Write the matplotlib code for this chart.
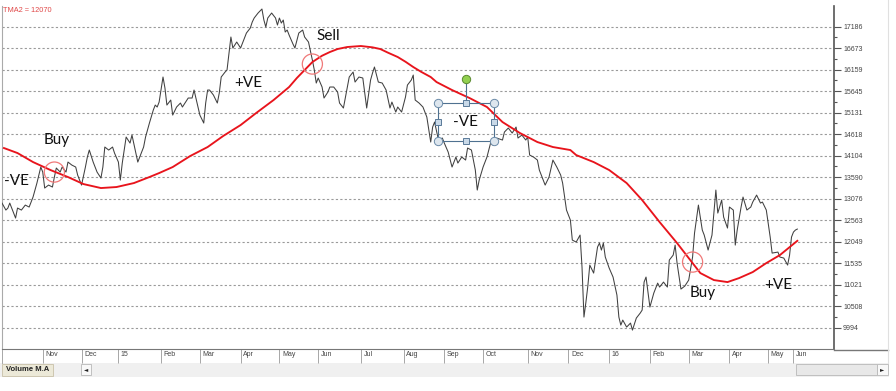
import matplotlib.pyplot as plt
from matplotlib.patches import Rectangle

# === DATA ===
# x = trading session index from the left edge of the chart
close_idx = [0, 2, 3, 4, 7, 8, 10, 12, 14, 16, 18, 20, 21, 22, 24, 26, 27, 28, 30, 31,
             33, 34, 36, 38, 39, 41, 43, 44, 45, 47, 49, 51, 52, 53, 55, 57, 58, 60, 61, 62,
             64, 66, 67, 69, 70, 71, 73, 74, 76, 78, 79, 80, 81, 83, 84, 85, 87, 88, 90, 92,
             93, 96, 98, 99, 101, 102, 104, 105, 106, 107, 109, 111, 112, 113, 115, 116, 118, 119, 121, 123,
             124, 126, 128, 129, 130, 132, 134, 135, 136, 137, 139, 141, 142, 143, 144, 145, 146, 147, 148, 150,
             151, 153, 155, 156, 158, 160, 161, 162, 163, 165, 166, 168, 169, 171, 173, 174, 176, 178, 179, 181,
             182, 184, 186, 188, 190, 191, 192, 194, 196, 198, 200, 201, 203, 204, 206, 208, 209, 211, 212, 213,
             215, 217, 219, 221, 222, 223, 225, 227, 228, 230, 232, 234, 235, 237, 239, 240, 242, 244, 245, 246,
             248, 250, 252, 253, 255, 258, 259, 261, 263, 265, 266, 268, 270, 271, 272, 274, 276, 277, 279, 280,
             282, 284, 286, 288, 289, 291, 293, 294, 296, 298, 299, 300, 301, 302, 303, 305, 307, 308, 309, 310,
             311, 313, 315, 317, 318, 319, 320, 322, 324, 325, 327, 329, 330, 331, 332, 334, 336, 338, 339, 341,
             343, 344, 346, 347, 348, 350, 352, 354, 356, 357, 359, 361, 362, 364, 366, 367, 368, 369, 371, 372,
             374, 375, 377, 378, 379, 381, 382, 384, 386, 387, 389, 391, 392, 394, 396, 397, 400, 401, 403, 405,
             406, 407, 408, 409, 410]
close_val = [12972, 12805, 12850, 12972, 12614, 12853, 12805, 12924, 12877, 13116, 13450, 13833, 13713, 13331, 13402, 13355, 13594, 13809, 13713, 13833,
             13713, 13952, 13880, 13833, 13641, 13402, 13833, 14072, 14239, 13952, 13713, 13570, 13833, 14311, 14239, 14311, 14167, 13952, 13522, 13928,
             14550, 14406, 14597, 14167, 13952, 14072, 14311, 14550, 14884, 15195, 15314, 15267, 15386, 15984, 15721, 15314, 15434, 15075, 15267, 15362,
             15267, 15482, 15482, 15673, 15267, 15075, 14884, 15362, 15673, 15673, 15553, 15362, 15601, 15984, 16103, 16151, 16940, 16677, 16820, 16677,
             16796, 17035, 17155, 17298, 17394, 17513, 17609, 17346, 17179, 17394, 17513, 17394, 17226, 17394, 17274, 17346, 17059, 17107, 16987, 16772,
             16677, 17035, 17107, 16940, 16820, 16390, 16151, 15840, 15960, 15745, 15482, 15625, 15745, 15745, 15625, 15362, 15243, 15745, 15984, 16103,
             15864, 15984, 15960, 15243, 15912, 16079, 16223, 15864, 15840, 15673, 15243, 15386, 15147, 15267, 15147, 15506, 15792, 15912, 16031, 15434,
             15362, 15267, 15028, 14430, 14789, 14908, 14478, 14526, 14406, 14191, 13833, 14072, 13928, 14072, 14000, 14287, 14239, 13761, 13283, 13522,
             13833, 14072, 14430, 14358, 14526, 14478, 14669, 14765, 14645, 14789, 14526, 14597, 14478, 14550, 14119, 14072, 14000, 13761, 13522, 13402,
             13594, 14000, 13833, 13641, 13450, 12805, 12566, 12088, 12040, 12207, 11443, 10248, 10600, 10990, 11490, 11299, 11921, 12016, 11849, 12016,
             11682, 11419, 11204, 10773, 10248, 10056, 10176, 10009, 10104, 9937, 10224, 10343, 10415, 11084, 11204, 10487, 10821, 11060, 10965, 11084,
             10965, 11610, 11729, 11968, 11538, 10917, 10989, 11132, 11682, 12255, 12924, 12327, 12207, 11849, 12207, 12733, 13283, 12733, 13044, 12638,
             12375, 12877, 12805, 11968, 12327, 12877, 13116, 12805, 12877, 12996, 13163, 12972, 12996, 12805, 12160, 11777, 11801, 11682, 11658, 11490,
             11729, 12160, 12279, 12327, 12351]

tma_idx = [1, 8, 16, 25, 34, 42, 51, 59, 68, 76, 81, 88, 97, 106, 114, 123, 131, 140, 148, 152,
           156, 160, 165, 169, 173, 178, 185, 191, 195, 199, 204, 208, 212, 216, 221, 224, 232, 241, 250, 258,
           267, 276, 284, 293, 296, 305, 313, 322, 330, 339, 348, 356, 360, 367, 374, 380, 387, 394, 401, 410]
tma_val = [14287, 14167, 13952, 13761, 13594, 13426, 13331, 13355, 13450, 13594, 13689, 13833, 14096, 14311, 14574, 14836, 15123, 15434, 15745, 15960,
           16151, 16342, 16493, 16581, 16653, 16701, 16725, 16693, 16653, 16565, 16462, 16349, 16223, 16110, 15984, 15864, 15673, 15482, 15267, 14908,
           14645, 14430, 14311, 14239, 14119, 13952, 13761, 13450, 13044, 12518, 12016, 11538, 11299, 11132, 11084, 11180, 11323, 11538, 11729, 12070]

month_pos = [21, 41, 60, 82, 102, 123, 143, 163, 185, 207, 228, 248, 271, 292, 313, 334, 354, 375, 395, 408]
month_lbl = ["Nov", "Dec", "15", "Feb", "Mar", "Apr", "May", "Jun", "Jul", "Aug",
             "Sep", "Oct", "Nov", "Dec", "16", "Feb", "Mar", "Apr", "May", "Jun"]
y_ticks = [17186, 16673, 16159, 15645, 15131, 14618, 14104, 13590, 13076, 12563,
           12049, 11535, 11021, 10508, 9994]

# signal circles and notes
circle_idx = [27, 160, 356]
circle_val = [13713, 16294, 11562]
note_txt = ["Buy", "-VE", "+VE", "Sell", "-VE", "Buy", "+VE"]
note_idx = [28, 1, 127, 168, 239, 361, 400]
note_val = [14478, 13498, 15840, 16964, 14915, 10821, 11013]
note_ha = ["center", "left", "center", "center", "center", "center", "center"]

# selected text box (from the drawing tool)
box_x = [225, 253.6]
box_y = [14454, 15362]
handle_top = 15936

# === FIGURE ===
fig = plt.figure(figsize=(8.96, 3.91), dpi=100)
fig.patch.set_facecolor("white")

# window chrome (pixel coordinates)
ui = fig.add_axes([0, 0, 1, 1], zorder=0)
ui.set_xlim(0, 896)
ui.set_ylim(391, 0)
ui.axis("off")
ui.add_patch(Rectangle((0, 363), 889, 14, fc="#f0f0f0", ec="none"))
ui.add_patch(Rectangle((2, 363.5), 51, 12, fc="#ece9d8", ec="#c8c0a8", lw=0.6))
ui.text(27.5, 369.5, "Volume M.A", fontsize=5.5, weight="bold", ha="center", va="center",
        family="Liberation Sans", color="#222")
ui.add_patch(Rectangle((81, 364), 10, 11, fc="#f8f8f8", ec="#b8b8b8", lw=0.6))
ui.text(86, 369.5, "◄", fontsize=4, ha="center", va="center", color="#222")
ui.add_patch(Rectangle((796, 364), 81, 11, fc="#e8e8e8", ec="#b8b8b8", lw=0.6))
ui.add_patch(Rectangle((877, 364), 11, 11, fc="#f8f8f8", ec="#b8b8b8", lw=0.6))
ui.text(882.5, 369.5, "►", fontsize=4, ha="center", va="center", color="#222")
ui.plot([834, 888], [349.5, 349.5], color="#777", lw=1)
ui.plot([888, 888], [0, 363], color="#e0e0e0", lw=0.8)
ui.plot([2, 2], [349.5, 363], color="#999", lw=0.6)

# main price panel
ax = fig.add_axes([2 / 896, (391 - 349) / 391, 832 / 896, (349 - 6) / 391], zorder=1)
ax.set_facecolor("white")
ax.plot(close_idx, close_val, color="#404040", lw=0.75, zorder=3)
ax.plot(tma_idx, tma_val, color="#e8141c", lw=1.35, zorder=4)
ax.set_xlim(0, 428.9)
ax.set_ylim(9485, 17681)

ax.yaxis.tick_right()
ax.set_yticks(y_ticks)
ax.set_yticklabels([str(v) for v in y_ticks])
ax.set_yticks([(a + b) / 2 for a, b in zip(y_ticks[:-1], y_ticks[1:])], minor=True)
ax.tick_params(axis="y", which="major", length=5, width=0.8, color="#555",
               labelsize=5, labelcolor="#444", pad=1.5)
ax.tick_params(axis="y", which="minor", length=2.5, width=0.8, color="#555")
for lab in ax.get_yticklabels():
    lab.set_family("Liberation Sans")
ax.yaxis.grid(True, which="major", linestyle=(0, (2, 2)), color="#9a9a9a", lw=0.8)
ax.set_axisbelow(True)

ax.set_xticks(month_pos)
ax.set_xticklabels([])
ax.tick_params(axis="x", length=10, width=0.6, color="#999", direction="out")
for p, lab in zip(month_pos, month_lbl):
    ax.annotate(lab, xy=(p, 0), xycoords=ax.get_xaxis_transform(), xytext=(1.8, -1.8),
                textcoords="offset points", ha="left", va="top", fontsize=5,
                family="Liberation Sans", color="#444")

ax.spines["top"].set_visible(False)
ax.spines["left"].set_color("#aaa")
ax.spines["right"].set_color("#555")
ax.spines["right"].set_linewidth(1.2)
ax.spines["bottom"].set_color("#777")

# annotations
ax.scatter(circle_idx, circle_val, s=210, facecolors="none", edgecolors="#f07878",
           linewidths=0.9, zorder=5)
for t, x, y, ha in zip(note_txt, note_idx, note_val, note_ha):
    ax.text(x, y, t, ha=ha, va="center", fontsize=11, family="Lato", color="#111", zorder=6)

bx0, bx1 = box_x
by0, by1 = box_y
bxm, bym = (bx0 + bx1) / 2, (by0 + by1) / 2
ax.plot([bx0, bx1, bx1, bx0, bx0], [by0, by0, by1, by1, by0], color="#4f7190", lw=0.8, zorder=7)
ax.plot([bxm, bxm], [by1, handle_top], color="#4f7190", lw=0.8, zorder=7)
ax.plot([bx0, bx1, bx1, bx0], [by0, by0, by1, by1], "o", ms=6, mfc="#dde6ee",
        mec="#6a8aa8", mew=0.7, zorder=8)
ax.plot([bxm, bxm, bx0, bx1], [by0, by1, bym, bym], "s", ms=4.2, mfc="#c9d9e8",
        mec="#5a7a99", mew=0.7, zorder=8)
ax.plot([bxm], [handle_top], "o", ms=6, mfc="#92d050", mec="#5a8a30", mew=0.7, zorder=8)

fig.text(3 / 896, 1 - 10 / 391, "TMA2 = 12070", fontsize=5.3, color="#e04848",
         family="Liberation Sans", ha="left", va="center")

plt.savefig("out.png", dpi=100)
